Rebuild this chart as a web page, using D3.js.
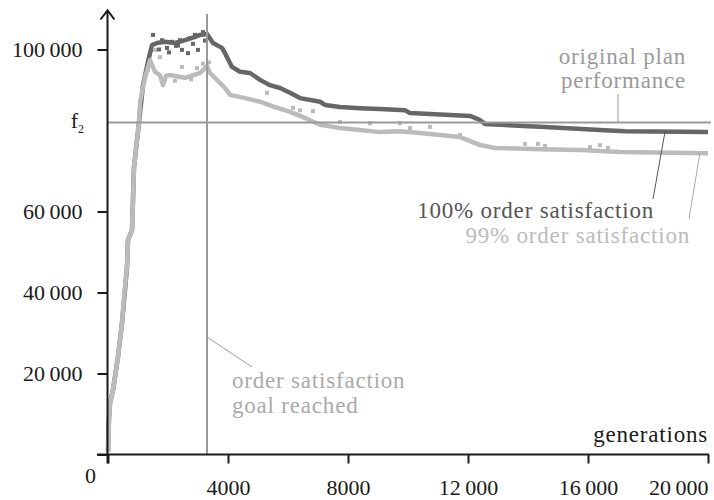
<!DOCTYPE html>
<html>
<head>
<meta charset="utf-8">
<script src="https://cdn.jsdelivr.net/npm/d3@7"></script>
<style>
  html, body { margin: 0; padding: 0; background: #fff; }
  svg { display: block; }
  svg text { font-family: "Liberation Serif", "DejaVu Serif", "Noto Serif", "Times New Roman", Times, serif !important; }
</style>
</head>
<body>
<svg id="chart" width="714" height="500" font-family="Liberation Serif, DejaVu Serif, serif"></svg>
<script>
// ---- data (generations, objective value) ----
const xTicks = [0, 4000, 8000, 12000, 16000, 20000];
const xTickLabels = ["", "4000", "8000", "12\u2009000", "16\u2009000", "20\u2009000"];
const yTicks = [0, 20000, 40000, 60000, 100000];
const yTickLabels = ["", "20\u2009000", "40\u2009000", "60\u2009000", "100\u2009000"];

const f2Value = 82000;       // original plan performance
const goalGeneration = 3300; // order satisfaction goal reached

const genDark = [0, 17, 67, 167, 333, 467, 567, 633, 667, 800, 833, 867, 1033, 1167, 1333, 1467, 1633, 1900, 2233, 2567, 2900, 3067, 3300, 3500, 3800, 3900, 4133, 4400, 4733, 5067, 5400, 5733, 6067, 6400, 7067, 7233, 7733, 8400, 9067, 9900, 10067, 12067, 12400, 12567, 14400, 16400, 17233, 20000];
const valDark = [600, 7300, 12700, 15900, 24100, 32500, 40600, 46300, 53000, 55400, 62800, 71000, 82000, 91200, 97000, 101100, 101600, 101900, 101600, 102300, 103100, 103600, 103800, 101600, 100400, 99100, 95700, 94500, 94200, 92500, 91200, 90500, 89300, 88000, 87100, 86300, 85800, 85500, 85300, 85000, 84300, 83600, 82600, 81600, 80900, 80100, 79800, 79600];

const genLight = [0, 33, 67, 167, 333, 467, 533, 633, 667, 800, 833, 867, 1033, 1067, 1233, 1400, 1567, 1733, 1833, 1933, 2067, 2567, 3067, 3233, 3300, 3400, 3567, 3900, 4067, 4567, 5067, 5567, 6067, 6567, 7067, 7733, 8400, 9067, 9733, 10400, 11733, 11967, 12400, 12900, 14400, 15733, 17067, 20000];
const valLight = [600, 7800, 12700, 15900, 24100, 32500, 38900, 46300, 53000, 55400, 62800, 71000, 82000, 87000, 93000, 97400, 94500, 93700, 91200, 93500, 93700, 93000, 94200, 95400, 95900, 94200, 93000, 90500, 88800, 88000, 87100, 85800, 84600, 83100, 81400, 80600, 80100, 79600, 79800, 79400, 78400, 77700, 76400, 75700, 75400, 75200, 74700, 74400];

// scattered individual measurements around the runs
const scatterGenDark = [1500, 1800, 1967, 2133, 2400, 2467, 2667, 2900, 3167, 3000, 2733, 2267, 1700, 2033, 2333, 2833, 3233];
const scatterValDark = [103600, 102300, 100400, 101900, 102300, 99900, 99100, 103600, 104300, 99900, 102800, 100900, 100000, 99300, 101000, 101400, 102200];
const scatterGenLight = [1567, 1733, 2467, 2967, 1333, 5300, 6167, 6400, 6833, 7733, 8733, 9733, 10067, 10733, 11733, 13900, 14333, 14567, 16067, 16400, 16667, 2233, 2767, 3167, 3367];
const scatterValLight = [99900, 98100, 95700, 95400, 94900, 89300, 85600, 85000, 84800, 82100, 81800, 81800, 80600, 80900, 78900, 76700, 76700, 76200, 75900, 76400, 75700, 92300, 92600, 96500, 96800];

// ---- drawing ----
const svg = d3.select("#chart");
const x = d3.scaleLinear().domain([0, 20000]).range([108, 708]);
const y = d3.scaleLinear().domain([0, 100000]).range([454.5, 49.5]);

const C_DARK = "#666666", C_LIGHT = "#bbbbbb", C_REF = "#9a9a9a", C_AXIS = "#1a1a1a";
const FONT = "Liberation Serif, DejaVu Serif, serif";

const line = d3.line().x(d => x(d[0])).y(d => y(d[1]));
const darkData = genDark.map((g, i) => [g, valDark[i]]);
const lightData = genLight.map((g, i) => [g, valLight[i]]);

svg.append("path").datum(darkData).attr("d", line)
  .attr("fill", "none").attr("stroke", C_DARK).attr("stroke-width", 4.5).attr("stroke-linejoin", "round");
svg.selectAll("rect.sd").data(scatterGenDark.map((g, i) => [g, scatterValDark[i]])).enter()
  .append("rect").attr("class", "sd")
  .attr("x", d => x(d[0]) - 2).attr("y", d => y(d[1]) - 2).attr("width", 4).attr("height", 4)
  .attr("fill", C_DARK);

svg.append("path").datum(lightData).attr("d", line)
  .attr("fill", "none").attr("stroke", C_LIGHT).attr("stroke-width", 4.5).attr("stroke-linejoin", "round");
svg.selectAll("rect.sl").data(scatterGenLight.map((g, i) => [g, scatterValLight[i]])).enter()
  .append("rect").attr("class", "sl")
  .attr("x", d => x(d[0]) - 2).attr("y", d => y(d[1]) - 2).attr("width", 4).attr("height", 4)
  .attr("fill", C_LIGHT);

// reference lines
svg.append("line").attr("x1", x(0)).attr("x2", 711).attr("y1", y(f2Value)).attr("y2", y(f2Value))
  .attr("stroke", C_REF).attr("stroke-width", 2);
svg.append("line").attr("x1", x(goalGeneration)).attr("x2", x(goalGeneration)).attr("y1", 14).attr("y2", y(0))
  .attr("stroke", C_REF).attr("stroke-width", 2);

// axes
const fs = 22;
const yAxis = d3.axisLeft(y).tickValues(yTicks).tickSize(10).tickPadding(15)
  .tickFormat((d, i) => yTickLabels[i]);
const gy = svg.append("g").attr("transform", "translate(107.5,0)").call(yAxis).attr("font-family", FONT);
gy.select(".domain").remove();
gy.selectAll(".tick line").attr("stroke", C_AXIS).attr("stroke-width", 2);
gy.selectAll(".tick text").attr("font-size", fs).attr("fill", C_AXIS).attr("dy", "0.34em");

const xAxis = d3.axisBottom(x).tickValues(xTicks).tickSize(9).tickPadding(16)
  .tickFormat((d, i) => xTickLabels[i]);
const gx = svg.append("g").attr("transform", "translate(0,454.5)").call(xAxis).attr("font-family", FONT);
gx.select(".domain").remove();
gx.selectAll(".tick line").attr("stroke", C_AXIS).attr("stroke-width", 2);
gx.selectAll(".tick text").attr("font-size", fs).attr("fill", C_AXIS);
gx.selectAll(".tick text").filter(d => d === 20000).attr("text-anchor", "end").attr("x", 0);

// axis lines + arrow
svg.append("line").attr("x1", 97).attr("x2", 709).attr("y1", 454.5).attr("y2", 454.5)
  .attr("stroke", C_AXIS).attr("stroke-width", 2);
svg.append("line").attr("x1", 107.5).attr("x2", 107.5).attr("y1", 463.5).attr("y2", 11)
  .attr("stroke", C_AXIS).attr("stroke-width", 2);
svg.append("path").attr("d", "M100.5,19.5 L107.5,10.5 L114.5,19.5")
  .attr("fill", "none").attr("stroke", C_AXIS).attr("stroke-width", 2);

svg.append("text").attr("x", 96).attr("y", 483).attr("text-anchor", "end")
  .attr("font-size", fs).attr("fill", C_AXIS).text("0");

const f2 = svg.append("text").attr("x", 84).attr("y", 128).attr("text-anchor", "end")
  .attr("font-size", fs).attr("fill", C_AXIS);
f2.append("tspan").text("f");
f2.append("tspan").attr("font-size", 12).attr("dy", 5).text("2");

const ls = "0.8px";
function label(tx, ty, txt, color, anchor) {
  return svg.append("text").attr("x", tx).attr("y", ty).attr("text-anchor", anchor)
    .attr("font-size", 23).attr("fill", color).style("letter-spacing", ls).text(txt);
}

label(708, 442, "generations", C_AXIS, "end");
label(686, 64, "original plan", C_REF, "end");
label(686, 88, "performance", C_REF, "end");
svg.append("line").attr("x1", 618).attr("x2", 618).attr("y1", 94).attr("y2", y(f2Value))
  .attr("stroke", C_REF).attr("stroke-width", 1);

label(654, 218, "100% order satisfaction", "#555555", "end");
svg.append("line").attr("x1", 653).attr("y1", 199).attr("x2", 665).attr("y2", y(79700))
  .attr("stroke", "#555555").attr("stroke-width", 1);

label(690, 243, "99% order satisfaction", C_LIGHT, "end");
svg.append("line").attr("x1", 689).attr("y1", 219).attr("x2", 700).attr("y2", y(74500))
  .attr("stroke", "#aaaaaa").attr("stroke-width", 1);

label(232, 388, "order satisfaction", "#aaaaaa", "start");
label(232, 413, "goal reached", "#aaaaaa", "start");
svg.append("line").attr("x1", x(goalGeneration)).attr("y1", 337).attr("x2", 252).attr("y2", 367)
  .attr("stroke", C_REF).attr("stroke-width", 1);
</script>
</body>
</html>
